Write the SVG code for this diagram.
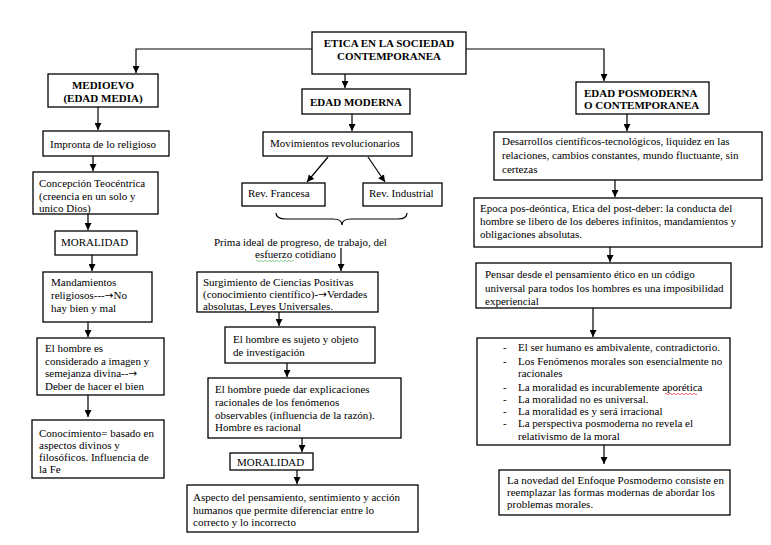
<svg xmlns="http://www.w3.org/2000/svg" width="771" height="545" viewBox="0 0 771 545">
<style>
.box{fill:#fff;stroke:#000;stroke-width:1.3}
.t{font-family:"Liberation Serif","Times New Roman",serif;font-size:11px;fill:#000}
.b{font-weight:bold;text-anchor:middle}
.ar{font-family:"DejaVu Sans",sans-serif;font-size:10.5px}
.c line,.c path.l{stroke:#000;stroke-width:1.2;fill:none}
</style>
<defs>
<marker id="ah" viewBox="0 0 8 8" refX="8" refY="4" markerWidth="7" markerHeight="7" markerUnits="userSpaceOnUse" orient="auto">
<path d="M0,0 L8,4 L0,8 Z" fill="#000"/>
</marker>
</defs>
<rect width="771" height="545" fill="#fff"/>
<g class="c" id="connectors">
<path class="l" d="M312,49 H136 V73" marker-end="url(#ah)"/>
<path class="l" d="M466,49 H604 V81" marker-end="url(#ah)"/>
<line x1="345" y1="74" x2="345" y2="88" marker-end="url(#ah)"/>
<line x1="98" y1="107" x2="98" y2="130" marker-end="url(#ah)"/>
<line x1="93" y1="156" x2="93" y2="171" marker-end="url(#ah)"/>
<line x1="88" y1="214" x2="88" y2="230" marker-end="url(#ah)"/>
<line x1="92" y1="255" x2="92" y2="271" marker-end="url(#ah)"/>
<line x1="88" y1="322" x2="88" y2="337" marker-end="url(#ah)"/>
<line x1="88" y1="395" x2="88" y2="417" marker-end="url(#ah)"/>
<line x1="352" y1="114" x2="352" y2="131" marker-end="url(#ah)"/>
<line x1="328" y1="157" x2="307" y2="182" marker-end="url(#ah)"/>
<line x1="368" y1="157" x2="385" y2="182" marker-end="url(#ah)"/>
<path class="l" d="M276,213 Q276,219 286,219 H333 Q342,219 342,225 Q342,219 351,219 H398 Q407,219 407,213"/>
<line x1="341" y1="248" x2="341" y2="271" marker-end="url(#ah)"/>
<line x1="279" y1="312" x2="279" y2="326" marker-end="url(#ah)"/>
<line x1="287" y1="363" x2="287" y2="377" marker-end="url(#ah)"/>
<line x1="302" y1="438" x2="302" y2="452" marker-end="url(#ah)"/>
<line x1="297" y1="470" x2="297" y2="484" marker-end="url(#ah)"/>
<line x1="627" y1="114" x2="627" y2="131" marker-end="url(#ah)"/>
<line x1="615" y1="180" x2="615" y2="197" marker-end="url(#ah)"/>
<line x1="610" y1="247" x2="610" y2="262" marker-end="url(#ah)"/>
<line x1="593" y1="308" x2="593" y2="337" marker-end="url(#ah)"/>
<line x1="604" y1="445" x2="604" y2="464" marker-end="url(#ah)"/>
</g>
<g id="title">
<rect class="box" x="312" y="32" width="154" height="42"/>
<text class="t b" x="389" y="47">ETICA EN LA SOCIEDAD</text>
<text class="t b" x="389" y="60">CONTEMPORANEA</text>
</g>
<g id="medioevo">
<rect class="box" x="48" y="74" width="110" height="33"/>
<text class="t b" x="103" y="89">MEDIOEVO</text>
<text class="t b" x="103" y="102">(EDAD MEDIA)</text>
</g>
<g id="impronta">
<rect class="box" x="43" y="131" width="126" height="25"/>
<text class="t" x="50" y="148">Impronta de lo religioso</text>
</g>
<g id="concepcion">
<rect class="box" x="33" y="172" width="125" height="42"/>
<text class="t" x="39" y="187">Concepción Teocéntrica</text>
<text class="t" x="39" y="200">(creencia en un solo y</text>
<text class="t" x="39" y="212">unico Dios)</text>
</g>
<g id="moralidad1">
<rect class="box" x="55" y="231" width="82" height="24"/>
<text class="t" x="61" y="246">MORALIDAD</text>
</g>
<g id="mandamientos">
<rect class="box" x="43" y="272" width="109" height="50"/>
<text class="t" x="51" y="286">Mandamientos</text>
<text class="t" x="51" y="299">religiosos---<tspan class="ar">→</tspan>No</text>
<text class="t" x="51" y="312">hay bien y mal</text>
</g>
<g id="hombre-divino">
<rect class="box" x="37" y="338" width="127" height="57"/>
<text class="t" x="45" y="352">El hombre es</text>
<text class="t" x="45" y="365">considerado a imagen y</text>
<text class="t" x="45" y="377">semejanza divina--<tspan class="ar">→</tspan></text>
<text class="t" x="45" y="390">Deber de hacer el bien</text>
</g>
<g id="conocimiento">
<rect class="box" x="32" y="420" width="132" height="58"/>
<text class="t" x="39" y="437">Conocimiento= basado en</text>
<text class="t" x="39" y="449">aspectos divinos y</text>
<text class="t" x="39" y="461">filosóficos. Influencia de</text>
<text class="t" x="39" y="473">la Fe</text>
</g>
<g id="moderna">
<rect class="box" x="302" y="89" width="108" height="25"/>
<text class="t b" x="356" y="106">EDAD MODERNA</text>
</g>
<g id="movimientos">
<rect class="box" x="263" y="132" width="149" height="24"/>
<text class="t" x="270" y="147">Movimientos revolucionarios</text>
</g>
<g id="francesa">
<rect class="box" x="242" y="183" width="83" height="23"/>
<text class="t" x="248" y="197">Rev. Francesa</text>
</g>
<g id="industrial">
<rect class="box" x="363" y="183" width="79" height="23"/>
<text class="t" x="369" y="197">Rev. Industrial</text>
</g>
<g id="prima">
<text class="t" x="214" y="246">Prima ideal de progreso, de trabajo, del</text>
<text class="t" x="255" y="258">esfuerzo cotidiano</text>
<path d="M256,261 q1,-1.5 2,0 t2,0 t2,0 t2,0 t2,0 t2,0 t2,0 t2,0 t2,0 t2,0 t2,0 t2,0 t2,0 t2,0 t2,0 t2,0 t2,0 t2,0 t2,0" fill="none" stroke="#7bbf7b" stroke-width="0.8"/>
</g>
<g id="surgimiento">
<rect class="box" x="197" y="272" width="181" height="40"/>
<text class="t" x="203" y="286">Surgimiento de Ciencias Positivas</text>
<text class="t" x="203" y="298">(conocimiento científico)-<tspan class="ar">→</tspan>Verdades</text>
<text class="t" x="203" y="310">absolutas, Leyes Universales.</text>
</g>
<g id="sujeto">
<rect class="box" x="225" y="327" width="150" height="36"/>
<text class="t" x="233" y="343">El hombre es sujeto y objeto</text>
<text class="t" x="233" y="356">de investigación</text>
</g>
<g id="racional">
<rect class="box" x="208" y="378" width="193" height="60"/>
<text class="t" x="215" y="393">El hombre puede dar explicaciones</text>
<text class="t" x="215" y="406">racionales de los fenómenos</text>
<text class="t" x="215" y="419">observables (influencia de la razón).</text>
<text class="t" x="215" y="431">Hombre es racional</text>
</g>
<g id="moralidad2">
<rect class="box" x="230" y="453" width="83" height="17"/>
<text class="t" x="237" y="466">MORALIDAD</text>
</g>
<g id="aspecto">
<rect class="box" x="187" y="485" width="231" height="47"/>
<text class="t" x="193" y="501">Aspecto del pensamiento, sentimiento y acción</text>
<text class="t" x="193" y="514">humanos que permite diferenciar entre lo</text>
<text class="t" x="193" y="526">correcto y lo incorrecto</text>
</g>
<g id="posmoderna">
<rect class="box" x="576" y="82" width="133" height="32"/>
<text class="t" x="584" y="97" font-weight="bold">EDAD POSMODERNA</text>
<text class="t" x="584" y="109" font-weight="bold">O CONTEMPORANEA</text>
</g>
<g id="desarrollos">
<rect class="box" x="494" y="132" width="268" height="48"/>
<text class="t" x="502" y="145">Desarrollos científicos-tecnológicos, liquidez en las</text>
<text class="t" x="502" y="159">relaciones, cambios constantes, mundo fluctuante, sin</text>
<text class="t" x="502" y="173">certezas</text>
</g>
<g id="epoca">
<rect class="box" x="474" y="198" width="288" height="49"/>
<text class="t" x="480" y="212">Epoca pos-deóntica, Etica del post-deber: la conducta del</text>
<text class="t" x="480" y="225">hombre se libero de los deberes infinitos, mandamientos y</text>
<text class="t" x="480" y="238">obligaciones absolutas.</text>
</g>
<g id="pensar">
<rect class="box" x="476" y="263" width="255" height="45"/>
<text class="t" x="485" y="278">Pensar desde el pensamiento ético en un código</text>
<text class="t" x="485" y="292">universal para todos los hombres es una imposibilidad</text>
<text class="t" x="485" y="305">experiencial</text>
</g>
<g id="caracteristicas">
<rect class="box" x="477" y="338" width="253" height="107"/>
<text class="t" x="503" y="351">-</text><text class="t" x="518" y="351">El ser humano es ambivalente, contradictorio.</text>
<text class="t" x="503" y="365">-</text><text class="t" x="518" y="365">Los Fenómenos morales son esencialmente no</text>
<text class="t" x="518" y="377">racionales</text>
<text class="t" x="503" y="391">-</text><text class="t" x="518" y="391">La moralidad es incurablemente aporética</text>
<path d="M665,394 q1,-1.5 2,0 t2,0 t2,0 t2,0 t2,0 t2,0 t2,0 t2,0 t2,0 t2,0 t2,0 t2,0 t2,0 t2,0 t2,0 t2,0" fill="none" stroke="#e04040" stroke-width="0.8"/>
<text class="t" x="503" y="403">-</text><text class="t" x="518" y="403">La moralidad no es universal.</text>
<text class="t" x="503" y="415">-</text><text class="t" x="518" y="415">La moralidad es y será irracional</text>
<text class="t" x="503" y="427">-</text><text class="t" x="518" y="427">La perspectiva posmoderna no revela el</text>
<text class="t" x="518" y="440">relativismo de la moral</text>
</g>
<g id="novedad">
<rect class="box" x="499" y="470" width="231" height="45"/>
<text class="t" x="507" y="484">La novedad del Enfoque Posmoderno consiste en</text>
<text class="t" x="507" y="496">reemplazar las formas modernas de abordar los</text>
<text class="t" x="507" y="508">problemas morales.</text>
</g>
</svg>
